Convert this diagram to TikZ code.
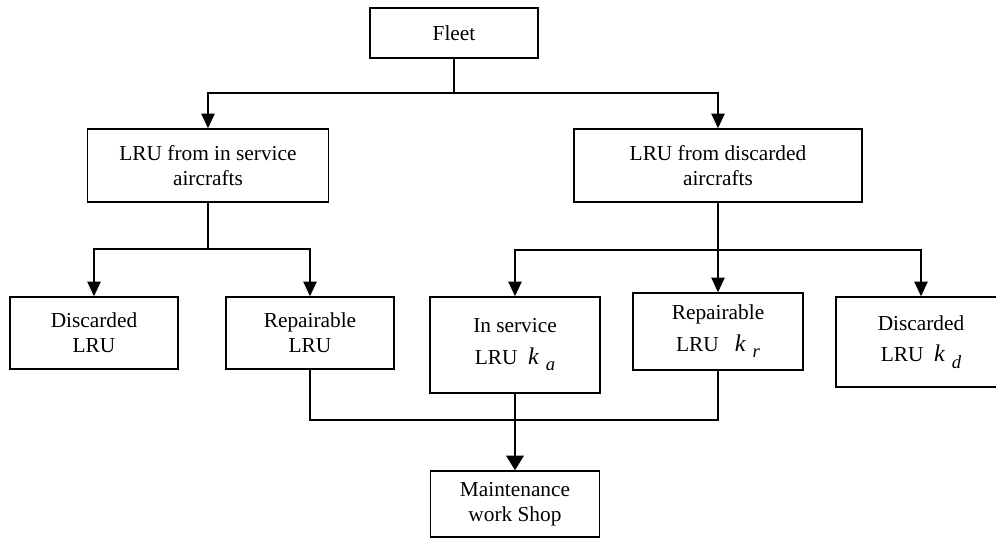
\documentclass[tikz,border=0pt]{standalone}
\usepackage{fontspec}
\setmainfont{Liberation Serif}
\usepackage{tikz}
\usetikzlibrary{arrows.meta}

\newcommand{\kidx}[1]{{\fontsize{18}{18}\selectfont\textit{k}}\hspace{5pt}\raisebox{-5pt}{\fontsize{14}{14}\selectfont\textit{#1}}}

\begin{document}
\begin{tikzpicture}[x=0.75pt,y=-0.75pt,line width=1pt,>={Triangle[length=11pt,width=10pt]}]
    \tikzstyle{box}=[draw,rectangle,line width=1.1pt,align=center,inner sep=0pt,font=\fontsize{16}{18.5}\selectfont]
    \tikzstyle{leaf}=[box,minimum width=126pt,minimum height=54pt]
    \tikzstyle{kbox}=[box,minimum width=127.5pt]
    \clip (0,0) rectangle (996,538);

    % Top of the tree
    \node[box,minimum width=126pt,minimum height=37.5pt] (F) at (454,33) {Fleet};

    % Two kinds of sources
    \node[box,minimum width=180.75pt,minimum height=54.75pt] (Ha) at (208,165.5) {LRU from in service\\aircrafts};
    \node[box,minimum width=216pt,minimum height=54.75pt] (Hb) at (718,165.5) {LRU from discarded\\aircrafts};

    % LRU from in service aircrafts
    \node[leaf] (La-1) at (94,333) {Discarded\\LRU};
    \node[leaf] (La-2) at (310,333) {Repairable\\LRU};

    % LRU from discarded aircrafts
    \node[kbox,minimum height=72pt] (Lb-1) at (515,345) {In service\\[5pt]LRU\ \ \kidx{a}};
    \node[kbox,minimum height=57.75pt] (Lb-2) at (718,331.5) {Repairable\\[5pt]LRU\ \ \ \kidx{r}};
    \node[kbox,minimum height=67.5pt] (Lb-3) at (921,342) {Discarded\\[5pt]LRU\ \ \kidx{d}};

    % Shop
    \node[box,minimum width=126.75pt,minimum height=49.5pt] (M) at (515,504) {Maintenance\\work Shop};

    % Connect the fleet with the sources
    \coordinate (j1) at (454,93);
    \draw (F) -- (j1);
    \draw[->] (j1) -| (Ha);
    \draw[->] (j1) -| (Hb);

    % Split the sources
    \coordinate (j2) at (208,249);
    \draw (Ha) -- (j2);
    \foreach \dest in {1,2}
        \draw[->] (j2) -| (La-\dest);

    \coordinate (j3) at (718,250);
    \draw (Hb) -- (j3);
    \foreach \dest in {1,2,3}
        \draw[->] (j3) -| (Lb-\dest);

    % Repairable LRU go to the shop
    \coordinate (j4) at (515,420);
    \draw (La-2) |- (j4) -| (Lb-2);
    \draw[line width=2pt,-{Triangle[length=11pt,width=13pt]}] (Lb-1) -- (M);

\end{tikzpicture}
\end{document}
